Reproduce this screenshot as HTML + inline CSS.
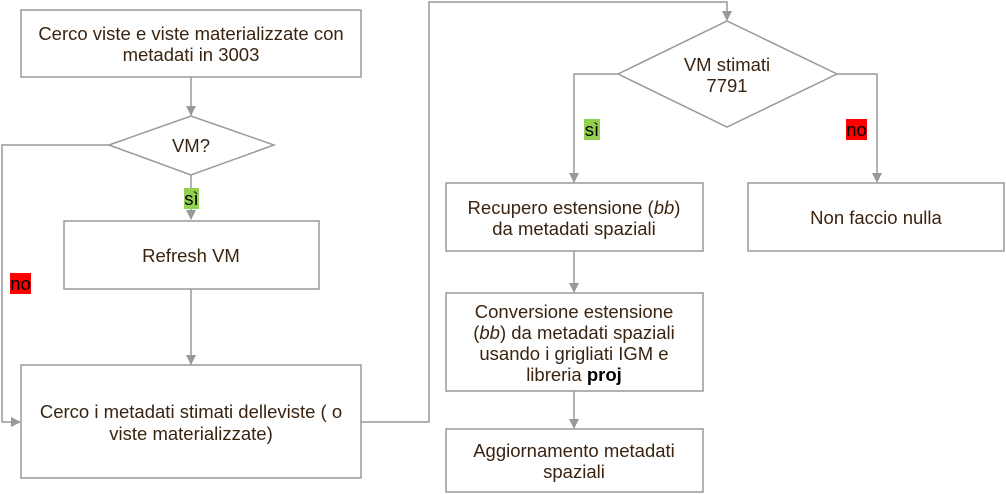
<!DOCTYPE html>
<html><head><meta charset="utf-8"><style>
html,body{margin:0;padding:0;background:#fff;width:1006px;height:494px;overflow:hidden}
text{font-family:"Liberation Sans",sans-serif;font-size:18.5px;fill:#3a2410}
</style></head><body>
<svg width="1006" height="494" viewBox="0 0 1006 494" xmlns="http://www.w3.org/2000/svg">
<defs><marker id="a" markerWidth="10" markerHeight="10" refX="9" refY="5" orient="auto" markerUnits="userSpaceOnUse"><path d="M0,0 L10,5 L0,10 z" fill="#999"/></marker></defs>
<g fill="none" stroke="#999" stroke-width="1.5">
<rect x="21" y="10" width="340" height="67" fill="#fff"/>
<polygon points="109,145 191,116 274,145 191,175" fill="#fff"/>
<rect x="64" y="221" width="255" height="68" fill="#fff"/>
<rect x="21" y="365" width="340" height="113" fill="#fff"/>
<polygon points="618,74 727,21 837,74 727,127" fill="#fff"/>
<rect x="446" y="183" width="257" height="68" fill="#fff"/>
<rect x="748" y="183" width="256" height="68" fill="#fff"/>
<rect x="446" y="293" width="257" height="98" fill="#fff"/>
<rect x="446" y="429" width="257" height="63" fill="#fff"/>
<path d="M191,77 V115" marker-end="url(#a)"/>
<path d="M191,175 V219" marker-end="url(#a)"/>
<path d="M191,289 V364" marker-end="url(#a)"/>
<path d="M109,145 H2 V422 H20" marker-end="url(#a)"/>
<path d="M361,422 H429 V2 H727 V20" marker-end="url(#a)"/>
<path d="M618,74 H574 V182" marker-end="url(#a)"/>
<path d="M837,74 H877 V182" marker-end="url(#a)"/>
<path d="M574,251 V292" marker-end="url(#a)"/>
<path d="M574,391 V428" marker-end="url(#a)"/>
</g>
<rect x="184" y="188" width="15" height="21" fill="#92d050"/>
<rect x="584" y="119" width="16" height="21" fill="#92d050"/>
<rect x="846" y="119" width="21" height="21" fill="#ff0000"/>
<rect x="10" y="273" width="21" height="21" fill="#ff0000"/>
<g text-anchor="middle">
<text x="191" y="40">Cerco viste e viste materializzate con</text>
<text x="191" y="61">metadati in 3003</text>
<text x="191" y="152">VM?</text>
<text x="191.5" y="205" style="fill:#000">sì</text>
<text x="191" y="262">Refresh VM</text>
<text x="191" y="418">Cerco i metadati stimati delleviste ( o</text>
<text x="191" y="440">viste materializzate)</text>
<text x="727" y="71">VM stimati</text>
<text x="727" y="92">7791</text>
<text x="592" y="136" style="fill:#000">sì</text>
<text x="856.5" y="136" style="fill:#000">no</text>
<text x="574" y="214">Recupero estensione (<tspan font-style="italic">bb</tspan>)</text>
<text x="574" y="235">da metadati spaziali</text>
<text x="876" y="224">Non faccio nulla</text>
<text x="574" y="318">Conversione estensione</text>
<text x="574" y="339">(<tspan font-style="italic">bb</tspan>) da metadati spaziali</text>
<text x="574" y="360">usando i grigliati IGM e</text>
<text x="574" y="381">libreria <tspan font-weight="bold" style="fill:#000">proj</tspan></text>
<text x="574" y="457">Aggiornamento metadati</text>
<text x="574" y="478">spaziali</text>
<text x="20.5" y="290" style="fill:#000">no</text>
</g>
</svg>
</body></html>
